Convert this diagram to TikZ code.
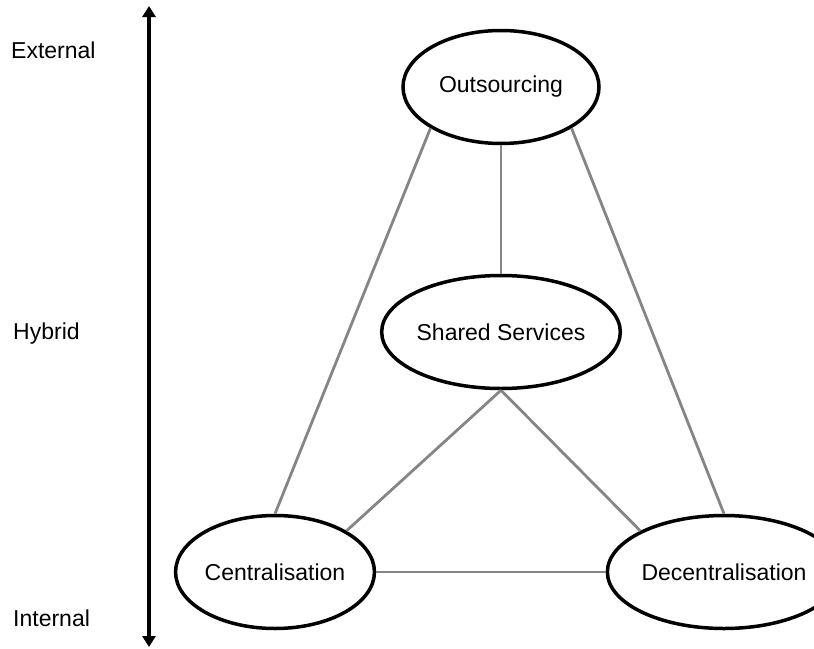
\documentclass[tikz,border=0pt]{standalone}
\usepackage{fontspec}
\setmainfont{Liberation Sans}
\usetikzlibrary{shapes.geometric,arrows.meta}
\begin{document}
\begin{tikzpicture}[x=1pt,y=-1pt,
  model/.style={ellipse,draw=black,line width=3.5pt,fill=white,
    minimum width=196pt,minimum height=113pt,inner sep=0pt,
    font=\fontsize{23}{27}\selectfont},
  link/.style={draw=black!48,line width=2.8pt},
  level/.style={anchor=west,inner sep=0pt,font=\fontsize{23}{27}\selectfont},
  axis/.style={line width=4pt,{Triangle[width=13pt,length=11pt]}-{Triangle[width=13pt,length=11pt]}}]
\clip (0,0) rectangle (814,648);
\useasboundingbox (0,0) rectangle (814,648);

% scale on the left
\coordinate (top) at (149,6);
\coordinate (bottom) at (149,647);
\draw[axis] (top) -- (bottom);
\node[level] (ext) at (11,50) {External};
\node[level] (hyb) at (13,334) {Hybrid};
\node[level] (int) at (13,618) {Internal};

% sourcing models
\node[model] (out) at (501,87) {Outsourcing};
\node[model] (ss) at (501,332) {Shared Services};
\node[model] (cen) at (275,572) {Centralisation};
\node[model] (dec) at (724,572) {Decentralisation};

% links between models
\begin{scope}[on background layer/.style={}]
\draw[link] (out.south west) -- (cen.north);
\draw[link] (out.south) -- (ss.north);
\draw[link] (out.south east) -- (dec.north);
\draw[link] (ss.south) -- (cen.north east);
\draw[link] (ss.south) -- (dec.north west);
\draw[link] (cen.east) -- (dec.west);
\end{scope}
\end{tikzpicture}
\end{document}
